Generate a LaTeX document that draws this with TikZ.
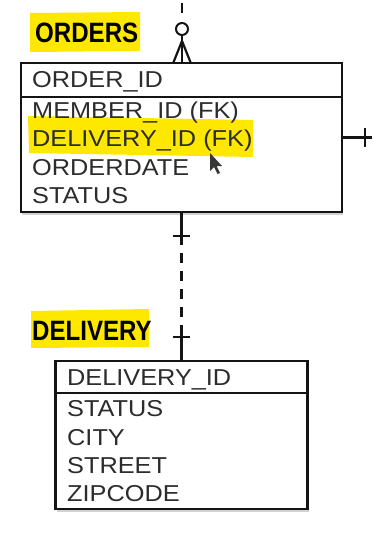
\documentclass[tikz,border=0pt]{standalone}
\usepackage{fontspec}
\usetikzlibrary{shadows}
\newfontfamily\erfont[FakeStretch=1.1]{Liberation Sans}
\newfontfamily\lblfont[FakeStretch=0.86]{Liberation Sans}
\definecolor{hl}{RGB}{255,232,0}
\definecolor{ink}{RGB}{20,20,20}
\tikzset{
  erbox/.style={draw=ink, line width=2.6pt, fill=white, inner sep=0pt,
    drop shadow={shadow xshift=1pt, shadow yshift=-2.5pt, opacity=0.35}},
  attr/.style={anchor=base west, inner sep=0pt, text=ink!90, font=\erfont\fontsize{23}{23}\selectfont},
  title/.style={anchor=base west, inner sep=0pt, text=black, font=\lblfont\bfseries\fontsize{28}{28}\selectfont},
  conn/.style={draw=ink, line width=2.2pt},
  dashconn/.style={draw=ink, line width=2.4pt, dash pattern=on 10pt off 8pt, dash phase=10pt},
}
\begin{document}
\begin{tikzpicture}[x=1pt,y=-1pt]
\useasboundingbox[fill=white] (0,0) rectangle (374,535);

% highlights
\fill[hl] (30,13) -- (140,12) -- (140,51) -- (30,52) -- cycle;
\fill[hl] (31,311) -- (149,309) -- (149,347) -- (31,348) -- cycle;

% ORDERS box
\node[erbox, minimum width=321pt, minimum height=149pt] (orders) at (181.5,137.5) {};
\fill[hl] (28,116) -- (253,120) -- (253,157) -- (29,153) -- cycle;
\draw[draw=ink, line width=2.6pt] (orders.west |- 0,97) -- (orders.east |- 0,97);

% DELIVERY box
\node[erbox, minimum width=252pt, minimum height=148pt] (delivery) at (181.5,435) {};
\draw[draw=ink, line width=2.6pt] (delivery.west |- 0,393) -- (delivery.east |- 0,393);

% titles
\node[title] (tOrders) at (35,43) {ORDERS};
\node[title] (tDelivery) at (32,340) {DELIVERY};

% ORDERS attributes
\node[attr] (o1) at (32,88) {ORDER\_ID};
\node[attr] (o2) at (32,118) {MEMBER\_ID (FK)};
\node[attr] (o3) at (32,146) {DELIVERY\_ID (FK)};
\node[attr] (o4) at (32,175) {ORDERDATE};
\node[attr] (o5) at (32,203) {STATUS};

% DELIVERY attributes
\node[attr] (d1) at (67,385) {DELIVERY\_ID};
\node[attr] (d2) at (67,416) {STATUS};
\node[attr] (d3) at (67,445) {CITY};
\node[attr] (d4) at (67,473) {STREET};
\node[attr] (d5) at (67,501) {ZIPCODE};

% cursor
\fill[ink!85] (210,153) -- (210,171) -- (214,167) -- (217.5,174) -- (220,173) -- (216.5,166) -- (222,166) -- cycle;

% top connector (zero-or-many into ORDERS)
\coordinate (topA) at (182,3);
\coordinate (topB) at (182,13);
\node[circle, draw=ink, line width=2pt, minimum size=12pt, inner sep=0pt] (circ) at (182,29) {};
\coordinate (split) at (182,41);
\draw[conn] (topA) -- (topB);
\draw[conn] (circ.south) -- (orders.north -| circ.south);
\draw[conn] (split) -- (173,63.5);
\draw[conn] (split) -- (191,63.5);

% right connector
\coordinate (rEnd) at (372,137.5);
\draw[conn] (orders.east) -- (rEnd);
\draw[conn] (365,128) -- (365,147);

% ORDERS -- DELIVERY
\coordinate (s1) at (181.5,245);
\coordinate (s2) at (181.5,325);
\draw[conn] (orders.south) -- (s1);
\draw[dashconn] (s1) -- (s2);
\draw[conn] (s2) -- (delivery.north);
\draw[conn] (173,236) -- (190,236);
\draw[conn] (173,337) -- (190,337);
\end{tikzpicture}
\end{document}
